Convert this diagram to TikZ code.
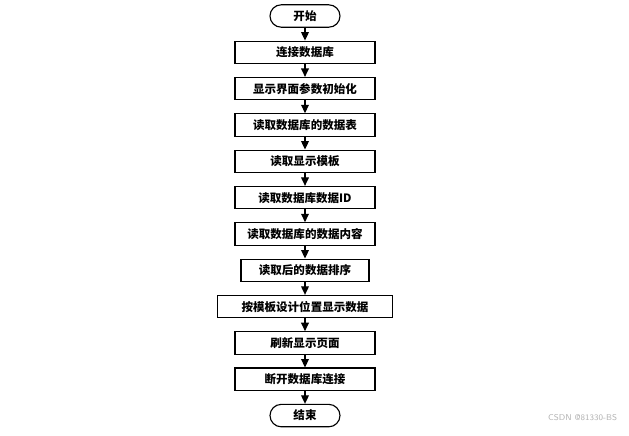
\documentclass[tikz,border=0pt]{standalone}
\usepackage{fontspec}
\newfontfamily\cjk{Noto Sans CJK SC}
\usetikzlibrary{arrows.meta, positioning}

\tikzset{
  stepbox/.style={draw, line width=0.8pt, minimum height=0.56cm, minimum width=3.5cm,
                  inner sep=1pt, font=\cjk\bfseries\fontsize{8.2}{9}\selectfont},
  termbox/.style={stepbox, minimum width=1.75cm, rounded corners=2.8mm},
}

\begin{document}
\begin{tikzpicture}[>={Triangle[width=5.5pt, length=6pt]}, node distance=0.32cm]

  \useasboundingbox (0,0) rectangle (15.725,-10.875);

  % === Flow ===
  \node[termbox] (start) at (7.625,-0.4) {开始};
  \node[stepbox, below=of start] (connect) {连接数据库};
  \node[stepbox, below=of connect] (init) {显示界面参数初始化};
  \node[stepbox, below=of init] (table) {读取数据库的数据表};
  \node[stepbox, below=of table] (tmpl) {读取显示模板};
  \node[stepbox, below=of tmpl] (readid) {读取数据库数据ID};
  \node[stepbox, below=of readid] (content) {读取数据库的数据内容};
  \node[stepbox, minimum width=3.2cm, below=of content] (sort) {读取后的数据排序};
  \node[stepbox, minimum width=4.375cm, below=of sort] (show) {按模板设计位置显示数据};
  \node[stepbox, below=of show] (refresh) {刷新显示页面};
  \node[stepbox, below=of refresh] (close) {断开数据库连接};
  \node[termbox, below=of close] (stop) {结束};

  % Arrows
  \foreach \a/\b in {start/connect, connect/init, init/table, table/tmpl,
                     tmpl/readid, readid/content, content/sort, sort/show,
                     show/refresh, refresh/close, close/stop}
    \draw[->, line width=0.8pt] (\a) -- (\b);

  % Watermark
  \node[anchor=east, text=gray!60, font=\sffamily\fontsize{6}{7}\selectfont]
    (mark) at (15.55,-10.43) {CSDN @81330-BS};

\end{tikzpicture}
\end{document}
